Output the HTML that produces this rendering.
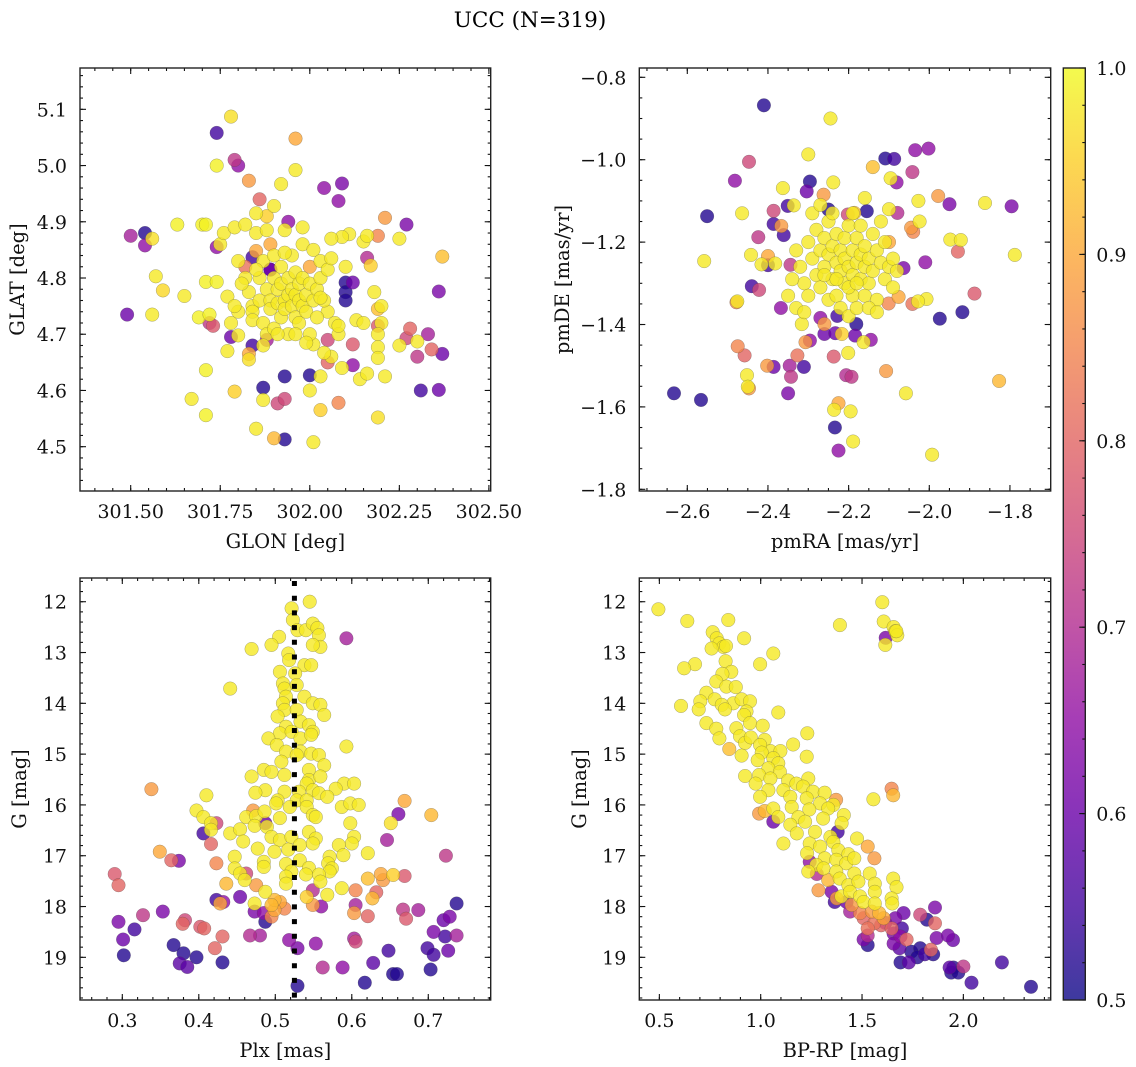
<!DOCTYPE html>
<html><head><meta charset="utf-8"><style>
html,body{margin:0;padding:0;background:#fff;}
svg{display:block;font-family:"DejaVu Serif","Liberation Serif",serif;}
</style></head><body>
<svg id="fig" width="1136" height="1067" viewBox="0 0 1136 1067" xmlns="http://www.w3.org/2000/svg">
<defs>
<linearGradient id="plasmaGrad" x1="0" y1="1" x2="0" y2="0">
<stop offset="0" stop-color="#0d0887"/><stop offset="0.1" stop-color="#41049d"/><stop offset="0.2" stop-color="#6a00a8"/><stop offset="0.3" stop-color="#8f0da4"/><stop offset="0.4" stop-color="#b12a90"/><stop offset="0.5" stop-color="#cc4778"/><stop offset="0.6" stop-color="#e16462"/><stop offset="0.7" stop-color="#f2844b"/><stop offset="0.8" stop-color="#fca636"/><stop offset="0.9" stop-color="#fcce25"/><stop offset="1" stop-color="#f0f921"/>
</linearGradient>
</defs>
<text x="530" y="27" font-size="21.5" text-anchor="middle" fill="#000">UCC (N=319)</text>
<g id="layer"></g>
</svg>
<script>
// ---------- Panel 1: GLON vs GLAT ----------
const glon=[301.49,301.50,301.54,301.54,301.56,301.56,301.57,301.59,301.63,301.65,301.67,301.69,301.70,301.71,301.71,301.71,301.71,301.72,301.72,301.73,301.74,301.74,301.74,301.74,301.75,301.76,301.77,301.77,301.78,301.78,301.78,301.79,301.79,301.80,301.79,301.80,301.82,301.82,301.83,301.83,301.84,301.83,301.84,301.85,301.85,301.85,301.85,301.86,301.87,301.87,301.88,301.88,301.88,301.89,301.89,301.90,301.90,301.91,301.92,301.93,301.93,301.93,301.93,301.94,301.96,301.96,301.98,302.00,302.01,302.04,302.09,302.08,302.05,302.10,302.10,302.10,302.12,302.10,302.11,302.09,302.06,302.05,302.05,302.06,302.09,302.12,302.12,302.13,302.15,302.14,302.16,302.15,302.16,302.17,302.16,302.21,302.19,302.18,302.19,302.20,302.20,302.19,302.19,302.19,302.19,302.19,302.21,302.25,302.27,302.25,302.27,302.28,302.30,302.30,302.31,302.33,302.34,302.36,302.36,302.37,302.37,302.01,302.00,302.03,302.03,302.08,302.04,
301.80,301.82,301.83,301.84,301.84,301.86,301.86,301.87,301.87,301.88,301.88,301.89,301.89,301.90,301.90,301.90,301.91,301.91,301.92,301.92,301.92,301.93,301.93,301.94,301.94,301.94,301.95,301.95,301.95,301.96,301.96,301.96,301.97,301.97,301.97,301.98,301.98,301.98,301.99,301.99,302.00,302.00,302.00,302.01,302.01,302.02,302.02,302.03,302.03,302.04,302.05,302.06,302.07,302.08,302.08,301.99,301.96,301.87,301.81,301.80,301.79,301.85,302.03,301.93,301.91,301.89,301.84];
const glat=[4.735,4.875,4.88,4.858,4.87,4.735,4.803,4.778,4.895,4.768,4.585,4.73,4.895,4.895,4.793,4.556,4.636,4.735,4.72,4.715,5.0,5.058,4.793,4.855,4.86,4.88,4.767,4.67,4.72,4.695,5.087,5.01,4.89,5.0,4.598,4.698,4.895,4.82,4.665,4.655,4.68,4.973,4.75,4.88,4.915,4.848,4.532,4.94,4.605,4.583,4.885,4.91,4.69,4.815,4.86,4.515,4.928,4.577,4.967,4.885,4.513,4.625,4.585,4.9,4.992,5.048,4.89,4.627,4.508,4.96,4.968,4.937,4.69,4.792,4.775,4.76,4.792,4.82,4.878,4.873,4.87,4.74,4.65,4.66,4.64,4.645,4.682,4.725,4.72,4.62,4.63,4.865,4.875,4.822,4.836,4.907,4.875,4.775,4.745,4.75,4.72,4.715,4.70,4.677,4.658,4.552,4.625,4.87,4.895,4.68,4.693,4.71,4.687,4.66,4.60,4.70,4.673,4.601,4.776,4.665,4.838,4.682,4.60,4.625,4.565,4.578,4.667,
4.83,4.80,4.775,4.74,4.725,4.76,4.80,4.83,4.72,4.70,4.78,4.76,4.745,4.80,4.84,4.71,4.78,4.755,4.73,4.79,4.82,4.76,4.745,4.77,4.80,4.70,4.75,4.78,4.84,4.73,4.77,4.81,4.76,4.79,4.72,4.75,4.80,4.86,4.77,4.74,4.79,4.82,4.70,4.76,4.85,4.78,4.73,4.80,4.83,4.76,4.815,4.835,4.72,4.70,4.715,4.685,4.70,4.68,4.79,4.74,4.75,4.815,4.765,4.845,4.70,4.815,4.837];
const prob1=[0.6,0.68,0.52,0.65,0.97,0.98,0.98,0.96,0.99,0.98,0.98,0.99,0.99,0.99,0.99,0.99,0.99,0.99,0.72,0.78,0.99,0.55,0.99,0.65,0.98,0.98,0.98,0.98,0.98,0.6,0.97,0.72,0.98,0.65,0.95,0.98,0.98,0.82,0.9,0.97,0.55,0.88,0.98,0.98,0.98,0.9,0.98,0.8,0.52,0.98,0.98,0.95,0.68,0.6,0.9,0.92,0.98,0.75,0.98,0.98,0.52,0.52,0.75,0.65,0.98,0.9,0.98,0.52,0.98,0.65,0.62,0.65,0.75,0.52,0.52,0.52,0.6,0.98,0.98,0.98,0.98,0.98,0.8,0.98,0.98,0.65,0.78,0.98,0.98,0.98,0.98,0.98,0.98,0.95,0.7,0.88,0.85,0.98,0.93,0.98,0.98,0.78,0.98,0.98,0.98,0.97,0.98,0.98,0.62,0.98,0.75,0.8,0.98,0.72,0.55,0.68,0.8,0.6,0.62,0.6,0.93,0.98,0.98,0.98,0.95,0.85,0.98,
0.98,0.98,0.98,0.98,0.98,0.98,0.98,0.98,0.98,0.98,0.98,0.98,0.98,0.98,0.98,0.98,0.98,0.98,0.98,0.98,0.98,0.98,0.98,0.98,0.98,0.98,0.98,0.98,0.98,0.98,0.98,0.98,0.98,0.98,0.98,0.98,0.98,0.98,0.98,0.98,0.98,0.9,0.98,0.98,0.98,0.98,0.98,0.98,0.98,0.98,0.98,0.98,0.98,0.98,0.98,0.98,0.98,0.98,0.98,0.98,0.98,0.98,0.98,0.98,0.98,0.6,0.55];
const p1XTicks=[301.5,301.75,302.0,302.25,302.5];
const p1XLabels=["301.50","301.75","302.00","302.25","302.50"];
const p1YTicks=[4.5,4.6,4.7,4.8,4.9,5.0,5.1];
const p1YLabels=["4.5","4.6","4.7","4.8","4.9","5.0","5.1"];

// ---------- Panel 2: pmRA vs pmDE ----------
const pmra=[-2.41,-2.245,-2.30,-2.447,-2.482,-2.296,-2.238,-2.304,-2.363,-2.109,-2.087,-2.035,-2.002,-2.042,-2.096,-2.081,-2.14,-2.16,-1.978,-1.95,-2.027,-1.862,-1.796,-2.551,-2.464,-2.386,-2.351,-2.336,-2.262,-2.25,-2.202,-2.186,-2.155,-2.079,-2.024,-2.045,-2.04,-2.386,-2.367,-2.361,-2.424,-2.558,-2.442,-2.40,-2.416,-2.382,-2.40,-2.344,-2.10,-1.948,-1.922,-1.929,-1.788,-2.01,-2.064,-2.44,-2.422,-2.478,-2.476,-2.368,-1.888,-1.918,-1.974,-2.007,-2.028,-2.042,-2.076,-2.101,-2.228,-2.181,-2.26,-2.27,-2.316,-2.26,-2.233,-2.217,-2.184,-2.145,-2.163,-2.296,-2.307,-2.475,-2.458,-2.327,-2.237,-2.201,-2.402,-2.386,-2.346,-2.311,-2.343,-2.206,-2.193,-2.107,-2.452,-2.447,-2.45,-1.827,-2.633,-2.566,-2.35,-2.058,-2.225,-2.236,-2.195,-2.234,-2.189,-2.225,-1.993,
-2.33,-2.32,-2.31,-2.30,-2.30,-2.29,-2.28,-2.28,-2.27,-2.27,-2.26,-2.26,-2.25,-2.25,-2.25,-2.24,-2.24,-2.23,-2.23,-2.23,-2.22,-2.22,-2.22,-2.21,-2.21,-2.21,-2.20,-2.20,-2.20,-2.19,-2.19,-2.19,-2.18,-2.18,-2.18,-2.17,-2.17,-2.17,-2.16,-2.16,-2.16,-2.15,-2.15,-2.14,-2.14,-2.13,-2.13,-2.12,-2.12,-2.11,-2.11,-2.10,-2.10,-2.09,-2.09,-2.08,-2.34,-2.35,-2.33,-2.31,-2.29,-2.27,-2.24,-2.19,-2.15,-2.13,-2.20,-2.26,-2.23,-2.18];
const pmde=[-0.868,-0.90,-0.987,-1.005,-1.051,-1.053,-1.055,-1.077,-1.069,-0.997,-0.998,-0.977,-0.973,-1.03,-1.045,-1.055,-1.018,-1.093,-1.088,-1.108,-1.10,-1.105,-1.113,-1.137,-1.13,-1.124,-1.112,-1.111,-1.085,-1.121,-1.133,-1.129,-1.125,-1.129,-1.15,-1.165,-1.175,-1.156,-1.161,-1.183,-1.188,-1.246,-1.231,-1.234,-1.254,-1.252,-1.256,-1.255,-1.20,-1.194,-1.195,-1.223,-1.231,-1.249,-1.263,-1.307,-1.316,-1.346,-1.344,-1.36,-1.325,-1.37,-1.386,-1.338,-1.344,-1.35,-1.333,-1.349,-1.379,-1.399,-1.399,-1.384,-1.399,-1.423,-1.421,-1.423,-1.427,-1.437,-1.443,-1.439,-1.443,-1.453,-1.475,-1.475,-1.478,-1.469,-1.50,-1.503,-1.50,-1.503,-1.527,-1.523,-1.527,-1.513,-1.523,-1.555,-1.551,-1.537,-1.567,-1.583,-1.567,-1.567,-1.591,-1.607,-1.611,-1.65,-1.684,-1.706,-1.716,
-1.22,-1.26,-1.30,-1.33,-1.20,-1.24,-1.28,-1.17,-1.22,-1.31,-1.26,-1.19,-1.23,-1.15,-1.34,-1.29,-1.21,-1.25,-1.18,-1.33,-1.27,-1.22,-1.36,-1.24,-1.19,-1.30,-1.26,-1.16,-1.38,-1.22,-1.28,-1.33,-1.25,-1.19,-1.36,-1.23,-1.29,-1.16,-1.26,-1.21,-1.33,-1.24,-1.30,-1.18,-1.27,-1.22,-1.34,-1.25,-1.15,-1.29,-1.20,-1.26,-1.12,-1.31,-1.24,-1.27,-1.29,-1.33,-1.36,-1.37,-1.13,-1.11,-1.13,-1.13,-1.36,-1.37,-1.31,-1.28,-1.29,-1.30];
const prob2=[0.52,0.98,0.98,0.75,0.65,0.52,0.98,0.6,0.98,0.52,0.55,0.65,0.65,0.72,0.98,0.65,0.93,0.98,0.88,0.62,0.98,0.98,0.62,0.52,0.98,0.75,0.55,0.98,0.88,0.52,0.75,0.93,0.52,0.7,0.98,0.88,0.85,0.55,0.88,0.55,0.72,0.98,0.98,0.9,0.98,0.98,0.55,0.72,0.9,0.98,0.98,0.8,0.98,0.65,0.62,0.55,0.75,0.85,0.98,0.65,0.78,0.52,0.52,0.98,0.98,0.82,0.9,0.85,0.55,0.52,0.88,0.65,0.98,0.6,0.6,0.95,0.6,0.65,0.98,0.65,0.88,0.85,0.8,0.82,0.78,0.98,0.88,0.6,0.68,0.55,0.72,0.7,0.72,0.88,0.98,0.88,0.98,0.92,0.52,0.52,0.62,0.98,0.9,0.98,0.98,0.52,0.98,0.65,0.98,
0.98,0.98,0.98,0.98,0.98,0.98,0.98,0.98,0.98,0.98,0.98,0.98,0.98,0.98,0.98,0.98,0.98,0.98,0.98,0.98,0.98,0.98,0.98,0.98,0.98,0.98,0.98,0.98,0.98,0.98,0.98,0.98,0.98,0.98,0.98,0.98,0.98,0.98,0.98,0.98,0.98,0.98,0.98,0.98,0.98,0.98,0.98,0.98,0.98,0.98,0.98,0.98,0.98,0.98,0.98,0.98,0.98,0.98,0.98,0.98,0.98,0.98,0.98,0.98,0.98,0.98,0.98,0.98,0.98,0.98];
const p2XTicks=[-2.6,-2.4,-2.2,-2.0,-1.8];
const p2XLabels=["−2.6","−2.4","−2.2","−2.0","−1.8"];
const p2YTicks=[-1.8,-1.6,-1.4,-1.2,-1.0,-0.8];
const p2YLabels=["−1.8","−1.6","−1.4","−1.2","−1.0","−0.8"];

// ---------- Panel 3: Plx vs G ----------
const plx=[0.5213,0.545,0.523,0.529,0.540,0.549,0.555,0.557,0.559,0.549,0.505,0.495,0.469,0.593,0.517,0.518,0.538,0.547,0.506,0.526,0.441,0.510,0.512,0.528,0.538,0.514,0.549,0.559,0.564,0.510,0.512,0.528,0.503,0.514,0.533,0.544,0.549,0.506,0.5213,0.533,0.547,0.491,0.502,0.593,0.514,0.533,0.547,0.557,0.528,0.508,0.564,0.544,0.485,0.495,0.469,0.512,0.544,0.559,0.541,0.590,0.603,0.579,0.487,0.474,0.512,0.531,0.549,0.557,0.568,0.410,0.503,0.528,0.541,0.587,0.598,0.609,0.519,0.541,0.501,0.397,0.406,0.471,0.462,0.475,0.486,0.549,0.553,0.423,0.416,0.473,0.487,0.489,0.506,0.598,0.441,0.454,0.416,0.406,0.495,0.506,0.521,0.544,0.553,0.603,0.458,0.532,0.549,0.600,0.583,0.477,0.499,0.517,0.416,0.349,0.364,0.374,0.423,0.447,0.532,0.571,0.589,0.621,0.485,0.514,0.569,0.574,0.447,0.485,0.544,0.521,0.454,0.514,0.571,0.540,0.557,0.460,0.559,0.462,0.621,0.638,0.641,0.654,0.669,0.704,0.669,0.651,0.661,0.646,0.723,0.338,0.290,0.295,0.436,0.514,0.475,0.487,0.549,0.568,0.587,0.605,0.627,0.632,0.423,0.432,0.428,0.454,0.473,0.499,0.506,0.495,0.541,0.549,0.560,0.512,0.499,0.473,0.485,0.495,0.487,0.605,0.603,0.621,0.667,0.671,0.687,0.737,0.720,0.728,0.707,0.722,0.737,0.699,0.707,0.726,0.703,0.648,0.628,0.617,0.654,0.659,0.588,0.562,0.553,0.603,0.605,0.529,0.518,0.529,0.480,0.467,0.431,0.421,0.402,0.407,0.382,0.379,0.353,0.327,0.295,0.316,0.301,0.302,0.367,0.380,0.375,0.385,0.397,0.431];
const gmag3=[12.13,12.0,12.36,12.56,12.56,12.43,12.52,12.66,12.89,12.85,12.69,12.85,12.93,12.72,13.02,13.15,13.25,13.25,13.38,13.41,13.71,13.61,13.71,13.64,13.87,13.87,14.0,14.03,14.23,14.0,14.13,14.13,14.26,14.46,14.36,14.43,14.56,14.59,14.56,14.69,14.62,14.69,14.82,14.85,14.95,14.95,14.99,15.02,15.02,15.15,15.22,15.31,15.31,15.35,15.44,15.41,15.51,15.44,15.58,15.58,15.58,15.68,15.71,15.76,15.74,15.74,15.71,15.77,15.84,15.81,15.91,15.91,15.91,16.04,15.97,16.0,16.04,16.04,15.97,16.11,16.24,16.11,16.24,16.22,16.13,16.2,16.24,16.36,16.36,16.41,16.36,16.43,16.26,16.36,16.56,16.48,16.49,16.56,16.63,16.69,16.63,16.53,16.66,16.63,16.72,16.79,16.76,16.76,16.79,16.86,16.92,16.88,16.77,16.92,17.09,17.1,17.15,17.02,17.09,17.02,16.99,16.95,17.12,17.16,17.15,17.25,17.25,17.22,17.24,17.31,17.35,17.41,17.31,17.37,17.37,17.48,17.51,17.35,17.45,17.36,17.48,17.38,17.4,16.2,15.92,16.36,16.18,16.69,17.0,15.69,17.36,17.58,17.55,17.55,17.58,17.71,17.68,17.77,17.64,17.68,17.84,17.72,17.87,17.91,17.94,17.81,17.94,17.87,17.91,17.97,17.81,17.97,18.0,18.04,18.07,18.1,18.13,18.2,18.3,17.97,18.13,18.19,18.06,18.24,18.07,17.94,18.27,18.2,18.5,18.59,18.57,18.82,18.95,18.87,19.24,18.87,19.11,19.5,19.33,19.33,19.2,19.2,18.73,18.63,18.69,18.82,18.66,19.56,18.57,18.57,18.59,18.82,18.4,18.43,18.27,18.34,18.1,18.17,18.3,18.45,18.65,18.96,18.76,18.92,19.12,19.19,19.0,19.1];
const prob3=[0.98,0.98,0.98,0.98,0.98,0.98,0.98,0.98,0.98,0.98,0.98,0.98,0.98,0.68,0.98,0.98,0.98,0.98,0.98,0.98,0.98,0.98,0.98,0.98,0.98,0.98,0.98,0.98,0.98,0.98,0.98,0.98,0.98,0.98,0.98,0.98,0.98,0.98,0.98,0.98,0.98,0.98,0.98,0.98,0.98,0.98,0.98,0.98,0.98,0.98,0.98,0.98,0.98,0.98,0.98,0.98,0.98,0.98,0.98,0.98,0.98,0.98,0.98,0.98,0.98,0.98,0.98,0.98,0.98,0.98,0.98,0.98,0.98,0.98,0.98,0.98,0.98,0.98,0.98,0.98,0.98,0.88,0.98,0.98,0.98,0.98,0.98,0.75,0.98,0.98,0.6,0.98,0.98,0.98,0.98,0.98,0.98,0.55,0.98,0.98,0.98,0.98,0.98,0.98,0.98,0.98,0.98,0.98,0.98,0.98,0.98,0.98,0.8,0.9,0.8,0.62,0.85,0.98,0.98,0.98,0.98,0.98,0.98,0.98,0.98,0.98,0.98,0.98,0.98,0.98,0.98,0.98,0.98,0.98,0.98,0.98,0.98,0.75,0.93,0.9,0.88,0.95,0.78,0.92,0.9,0.97,0.62,0.68,0.72,0.88,0.78,0.8,0.92,0.98,0.88,0.98,0.7,0.98,0.98,0.85,0.92,0.8,0.55,0.65,0.9,0.6,0.98,0.92,0.9,0.92,0.95,0.88,0.65,0.85,0.9,0.62,0.65,0.85,0.52,0.68,0.88,0.8,0.72,0.78,0.68,0.52,0.6,0.62,0.62,0.55,0.68,0.55,0.55,0.6,0.52,0.55,0.58,0.52,0.52,0.52,0.65,0.7,0.65,0.68,0.75,0.62,0.65,0.52,0.68,0.7,0.8,0.8,0.78,0.8,0.75,0.8,0.62,0.72,0.62,0.55,0.6,0.52,0.52,0.52,0.58,0.58,0.52,0.52];
const plxRef=[0.525];
const p3XTicks=[0.3,0.4,0.5,0.6,0.7];
const p3XLabels=["0.3","0.4","0.5","0.6","0.7"];
const gYTicks=[12,13,14,15,16,17,18,19];
const gYLabels=["12","13","14","15","16","17","18","19"];

// ---------- Panel 4: BP-RP vs G ----------
const bprp=[0.495,0.638,0.84,0.763,0.783,0.796,0.816,0.829,0.918,0.758,1.062,1.391,1.60,1.607,1.617,1.615,1.656,1.664,1.674,1.669,0.676,0.622,0.827,0.997,0.855,0.811,0.781,0.831,0.877,0.732,0.773,0.702,0.607,0.694,0.865,0.906,0.947,0.808,0.824,0.930,0.918,1.087,0.732,0.781,0.880,0.947,1.01,1.23,0.796,0.898,0.923,0.951,1.02,0.845,1.16,1.048,1.097,0.906,0.997,1.005,1.227,1.062,0.985,1.087,1.038,1.095,0.923,0.992,1.048,1.135,1.235,0.975,1.176,1.038,1.112,1.209,1.258,1.316,0.997,1.146,1.227,1.293,1.359,1.372,1.556,1.646,1.654,1.062,1.153,1.24,1.333,0.992,1.02,1.087,1.062,1.186,1.308,1.41,1.146,1.219,1.399,1.178,1.268,1.38,1.475,1.344,1.112,1.242,1.359,1.528,1.229,1.293,1.383,1.433,1.316,1.561,1.242,1.275,1.373,1.422,1.462,1.31,1.235,1.277,1.373,1.462,1.538,1.333,1.39,1.654,1.433,1.482,1.563,1.67,1.285,1.35,1.375,1.398,1.441,1.49,1.563,1.646,1.365,1.424,1.449,1.508,1.563,1.649,1.441,1.49,1.508,1.548,1.585,1.607,1.615,1.56,1.528,1.594,1.646,1.664,1.705,1.787,1.820,1.86,1.86,1.697,1.656,1.69,1.72,1.508,1.528,1.528,1.656,1.685,1.743,1.787,1.84,1.868,1.924,1.949,1.69,1.731,1.773,1.81,1.851,1.932,1.94,1.951,1.975,2.0,2.04,2.19,2.334];
const gmag4=[12.15,12.38,12.36,12.6,12.72,12.82,12.89,12.87,12.72,12.92,13.02,12.46,12.01,12.39,12.71,12.85,12.5,12.58,12.66,12.58,13.23,13.31,13.17,13.23,13.38,13.42,13.57,13.67,13.68,13.79,13.92,13.96,14.05,14.12,14.0,13.92,13.96,14.03,14.12,14.16,14.23,14.18,14.39,14.5,14.49,14.39,14.44,14.59,14.69,14.65,14.78,14.67,14.72,14.9,14.81,14.94,14.94,15.03,14.82,14.97,15.05,15.08,15.12,15.18,15.28,15.35,15.43,15.41,15.48,15.52,15.48,15.58,15.58,15.71,15.71,15.64,15.74,15.76,15.84,15.84,15.87,15.97,16.0,15.9,15.89,15.68,15.81,16.07,16.04,16.09,16.07,16.17,16.12,16.24,16.33,16.24,16.27,16.2,16.39,16.33,16.36,16.56,16.53,16.53,16.66,16.63,16.76,16.76,16.73,16.82,16.95,16.82,16.89,16.97,17.05,17.05,17.12,17.18,17.08,17.15,17.05,17.25,17.31,17.36,17.31,17.35,17.35,17.48,17.45,17.45,17.58,17.51,17.55,17.62,17.68,17.71,17.84,17.8,17.71,17.8,17.71,17.84,17.91,17.91,17.97,17.91,17.94,17.94,18.1,18.13,18.23,18.1,18.13,18.23,18.32,18.33,18.43,18.37,18.43,18.23,18.13,18.16,18.26,18.33,18.02,18.43,18.53,18.59,18.65,18.65,18.57,18.76,18.73,18.82,18.89,18.82,18.85,18.62,18.57,18.66,19.1,19.1,19.0,18.94,18.94,19.2,19.3,19.2,19.3,19.18,19.5,19.1,19.58];
const prob4=[0.98,0.98,0.98,0.98,0.98,0.98,0.98,0.98,0.98,0.98,0.98,0.98,0.98,0.98,0.62,0.98,0.98,0.98,0.98,0.98,0.98,0.98,0.98,0.98,0.98,0.98,0.98,0.98,0.98,0.98,0.98,0.98,0.98,0.98,0.98,0.98,0.98,0.98,0.98,0.98,0.98,0.98,0.98,0.98,0.98,0.98,0.98,0.98,0.98,0.98,0.98,0.98,0.98,0.93,0.98,0.98,0.98,0.98,0.98,0.98,0.98,0.98,0.98,0.98,0.98,0.98,0.98,0.98,0.98,0.98,0.98,0.98,0.98,0.98,0.98,0.98,0.98,0.98,0.98,0.98,0.98,0.98,0.98,0.88,0.98,0.85,0.92,0.98,0.98,0.98,0.98,0.88,0.92,0.98,0.6,0.98,0.98,0.98,0.98,0.98,0.98,0.98,0.98,0.55,0.98,0.98,0.98,0.98,0.98,0.9,0.98,0.98,0.98,0.98,0.98,0.88,0.65,0.98,0.98,0.98,0.98,0.98,0.98,0.7,0.98,0.98,0.98,0.92,0.98,0.98,0.98,0.98,0.98,0.98,0.88,0.62,0.88,0.98,0.98,0.98,0.98,0.98,0.55,0.6,0.88,0.98,0.98,0.98,0.68,0.85,0.8,0.88,0.92,0.9,0.65,0.82,0.82,0.8,0.8,0.62,0.6,0.75,0.52,0.8,0.62,0.55,0.62,0.65,0.8,0.62,0.7,0.52,0.62,0.58,0.52,0.52,0.8,0.62,0.62,0.6,0.52,0.58,0.52,0.55,0.52,0.58,0.52,0.52,0.52,0.72,0.55,0.55,0.52];
const p4XTicks=[0.5,1.0,1.5,2.0];
const p4XLabels=["0.5","1.0","1.5","2.0"];

// ---------- Colorbar ----------
const cbTicks=[0.5,0.6,0.7,0.8,0.9,1.0];
const cbLabels=["0.5","0.6","0.7","0.8","0.9","1.0"];

const NS="http://www.w3.org/2000/svg";
const layer=document.getElementById('layer');
const stops=[[13,8,135],[65,4,157],[106,0,168],[143,13,164],[177,42,144],[204,71,120],[225,100,98],[242,132,75],[252,166,54],[252,206,37],[240,249,33]];
function plasma(v){
  let t=(v-0.5)/0.5; t=Math.max(0,Math.min(1,t));
  const f=t*10, i=Math.min(9,Math.floor(f)), r=f-i;
  const a=stops[i], b=stops[i+1];
  return 'rgb('+a.map((c,k)=>Math.round(c+(b[k]-c)*r)).join(',')+')';
}
function mk(tag,attrs,parent){
  const e=document.createElementNS(NS,tag);
  for(const k in attrs) e.setAttribute(k,attrs[k]);
  (parent||layer).appendChild(e);
  return e;
}
function lin(d0,d1,r0,r1){return v=>r0+(v-d0)/(d1-d0)*(r1-r0);}

function drawPanel(name,box,xd,yd,xs,ys,xTicks,xLabels,xMinor,yTicks,yLabels,yMinor,xTitle,yTitle,yTitleX){
  const g=mk('g',{});
  
  
  const sx=lin(xd[0],xd[1],box.x0,box.x1), sy=lin(yd[0],yd[1],box.y1,box.y0);
  const clip='clip-'+name;
  const cp=mk('clipPath',{id:clip},g);
  mk('rect',{x:box.x0,y:box.y0,width:box.x1-box.x0,height:box.y1-box.y0},cp);
  const pg=mk('g',{'clip-path':'url(#'+clip+')'},g);
  
  
  const idx=xs.series.map((_,i)=>i).sort((a,b)=>xs.prob[a]-xs.prob[b]);
  idx.forEach(i=>{
    const c=mk('circle',{cx:sx(xs.series[i]).toFixed(1),cy:sy(ys[i]).toFixed(1),r:6.8,fill:plasma(xs.prob[i]),'fill-opacity':0.8,stroke:'#444','stroke-width':0.5,'stroke-opacity':0.45},pg);
    
    
  });
  const tk=mk('g',{stroke:'#111','stroke-width':1.1},g);
  xMinor.forEach(v=>{const x=sx(v); if(x<box.x0-0.5||x>box.x1+0.5)return;
    mk('line',{x1:x,x2:x,y1:box.y1,y2:box.y1-3},tk);mk('line',{x1:x,x2:x,y1:box.y0,y2:box.y0+3},tk);});
  yMinor.forEach(v=>{const y=sy(v); if(y<box.y0-0.5||y>box.y1+0.5)return;
    mk('line',{x1:box.x0,x2:box.x0+3,y1:y,y2:y},tk);mk('line',{x1:box.x1,x2:box.x1-3,y1:y,y2:y},tk);});
  xTicks.forEach((v,i)=>{const x=sx(v);
    mk('line',{x1:x,x2:x,y1:box.y1,y2:box.y1-6},tk);mk('line',{x1:x,x2:x,y1:box.y0,y2:box.y0+6},tk);
    const t=mk('text',{x:x,y:box.y1+27,'font-size':19,'text-anchor':'middle',fill:'#111'},g);
    t.textContent=xLabels[i];
    
    });
  yTicks.forEach((v,i)=>{const y=sy(v);
    mk('line',{x1:box.x0,x2:box.x0+6,y1:y,y2:y},tk);mk('line',{x1:box.x1,x2:box.x1-6,y1:y,y2:y},tk);
    const t=mk('text',{x:box.x0-13,y:y+7,'font-size':19,'text-anchor':'end',fill:'#111'},g);
    t.textContent=yLabels[i];
    
    });
  const fr=mk('rect',{x:box.x0,y:box.y0,width:box.x1-box.x0,height:box.y1-box.y0,fill:'none',stroke:'#222','stroke-width':1.4},g);
  
  
  const xt=mk('text',{x:(box.x0+box.x1)/2,y:box.y1+57,'font-size':19.5,'text-anchor':'middle',fill:'#111'},g);
  xt.textContent=xTitle;
  
  
  const cy=(box.y0+box.y1)/2;
  const yt=mk('text',{x:yTitleX,y:cy,'font-size':19.5,'text-anchor':'middle',fill:'#111',transform:'rotate(-90 '+yTitleX+' '+cy+')'},g);
  yt.textContent=yTitle;
  
  
  return {sx,sy,g};
}
function range(a,b,s){const r=[];for(let v=a;v<=b+1e-9;v+=s)r.push(+v.toFixed(6));return r;}

const B1={x0:80,x1:490.7,y0:68,y1:491}, B2={x0:639.3,x1:1050.7,y0:68,y1:491};
const B3={x0:80,x1:490.7,y0:578,y1:1000}, B4={x0:639.3,x1:1050.7,y0:578,y1:1000};

drawPanel('panel-glon-glat',B1,[301.3585,302.505],[4.4212,5.1735],{series:glon,prob:prob1},glat,
  p1XTicks,p1XLabels,range(301.35,302.5,0.05),p1YTicks,p1YLabels,range(4.42,5.18,0.02),'GLON [deg]','GLAT [deg]',24);
drawPanel('panel-pm',B2,[-2.719,-1.699],[-1.8041,-0.7774],{series:pmra,prob:prob2},pmde,
  p2XTicks,p2XLabels,range(-2.7,-1.7,0.05),p2YTicks,p2YLabels,range(-1.80,-0.78,0.05),'pmRA [mas/yr]','pmDE [mas/yr]',569);
const P3=drawPanel('panel-plx-g',B3,[0.2447,0.7816],[19.84,11.533],{series:plx,prob:prob3},gmag3,
  p3XTicks,p3XLabels,range(0.26,0.78,0.02),gYTicks,gYLabels,range(11.6,19.8,0.2),'Plx [mas]','G [mag]',26);
drawPanel('panel-cmd',B4,[0.401,2.431],[19.84,11.533],{series:bprp,prob:prob4},gmag4,
  p4XTicks,p4XLabels,range(0.5,2.4,0.1),gYTicks,gYLabels,range(11.6,19.8,0.2),'BP-RP [mag]','G [mag]',586);

plxRef.forEach(v=>{
  const x=P3.sx(v);
  const l=mk('line',{x1:x,x2:x,y1:B3.y0+3,y2:B3.y1,stroke:'#000','stroke-width':5,'stroke-dasharray':'5 9.7'});
  
  
});

const cb={x0:1063.3,x1:1085.3,y0:68,y1:1000};
const cg=mk('g',{});


mk('rect',{x:cb.x0,y:cb.y0,width:cb.x1-cb.x0,height:cb.y1-cb.y0,fill:'url(#plasmaGrad)','fill-opacity':0.8},cg);
const cs=lin(0.5,1.0,cb.y1,cb.y0);
range(0.5,1.0,0.02).forEach(v=>mk('line',{x1:cb.x1,x2:cb.x1-3,y1:cs(v),y2:cs(v),stroke:'#111','stroke-width':1.1},cg));
cbTicks.forEach((v,i)=>{
  mk('line',{x1:cb.x1,x2:cb.x1-6,y1:cs(v),y2:cs(v),stroke:'#111','stroke-width':1.1},cg);
  const t=mk('text',{x:cb.x1+11,y:cs(v)+7,'font-size':19,fill:'#111'},cg);
  t.textContent=cbLabels[i];
  
  
});
mk('rect',{x:cb.x0,y:cb.y0,width:cb.x1-cb.x0,height:cb.y1-cb.y0,fill:'none',stroke:'#222','stroke-width':1.4},cg);
</script>
</body></html>
